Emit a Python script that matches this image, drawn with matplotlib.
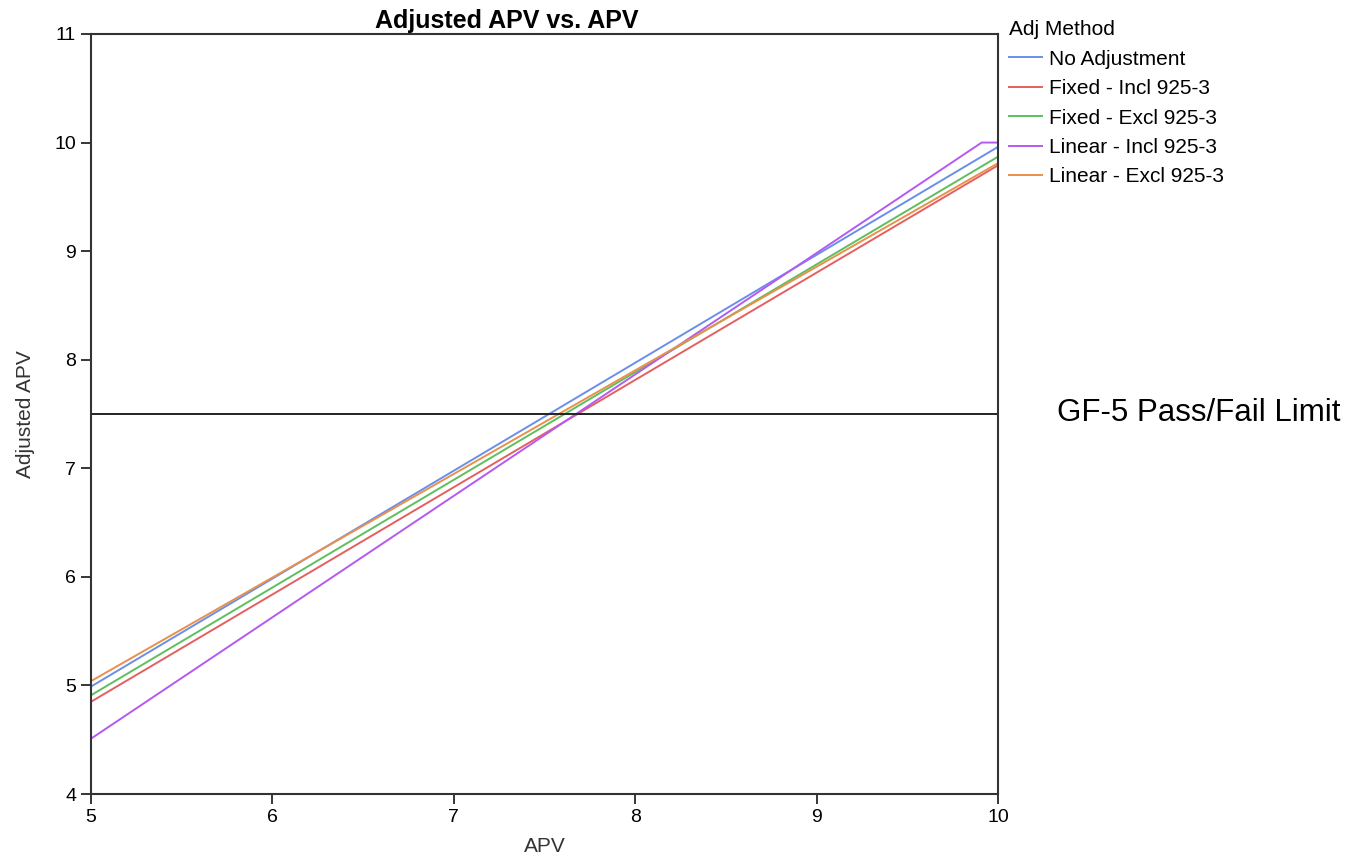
import matplotlib.pyplot as plt

"""Adjusted APV vs. APV for each adjustment method"""

plt.rcParams['font.family'] = ['Liberation Sans', 'DejaVu Sans']

apv = [5, 10]
methods = ['No Adjustment', 'Fixed - Incl 925-3', 'Fixed - Excl 925-3',
           'Linear - Incl 925-3', 'Linear - Excl 925-3']
colors = ['#6B8FE8', '#E46060', '#5DBF5D', '#B45AF2', '#E8904C']

# adjusted values read at APV = 5 and APV = 10
no_adj = [4.99, 9.96]
fixed_incl = [4.85, 9.79]
fixed_excl = [4.91, 9.87]
linear_excl = [5.04, 9.81]
# linear incl is capped at 10
linear_incl_x = [5, 9.91, 10]
linear_incl = [4.51, 10.0, 10.0]

limit = 7.5


def main():
    fig = plt.figure(figsize=(13.63, 8.56), dpi=100)
    ax = fig.add_axes([0.0668, 0.0724, 0.6654, 0.8879])

    ax.plot(apv, no_adj, color=colors[0], lw=1.4, label=methods[0])
    ax.plot(apv, fixed_incl, color=colors[1], lw=1.4, label=methods[1])
    ax.plot(apv, fixed_excl, color=colors[2], lw=1.4, label=methods[2])
    ax.plot(linear_incl_x, linear_incl, color=colors[3], lw=1.4, label=methods[3])
    ax.plot(apv, linear_excl, color=colors[4], lw=1.4, label=methods[4])
    ax.axhline(limit, color='#222222', lw=1.4)

    ax.set_xlim(5, 10)
    ax.set_ylim(4, 11)
    ax.set_xticks(range(5, 11))
    ax.set_yticks(range(4, 12))
    ax.tick_params(labelsize=14, length=7.2, width=1.1, direction='out', pad=3.5)
    for s in ax.spines.values():
        s.set_linewidth(1.5)
        s.set_color('#333333')

    ax.set_xlabel('APV', fontsize=15, color='#333333', labelpad=8)
    ax.set_ylabel('Adjusted APV', fontsize=15, color='#333333', labelpad=14)

    fig.text(507 / 1363, 1 - 28 / 856, 'Adjusted APV vs. APV', ha='center',
             va='baseline', fontsize=18, fontweight='bold')
    fig.text(1057 / 1363, 1 - 413 / 856, 'GF-5 Pass/Fail Limit', ha='left',
             va='center', fontsize=22.5)

    leg = ax.legend(loc='upper left', bbox_to_anchor=(1.003, 1.029), frameon=False,
                    title='Adj Method', fontsize=15, title_fontsize=15,
                    handlelength=1.6, handletextpad=0.3, labelspacing=0.5,
                    borderaxespad=0, alignment='left')
    for line in leg.get_lines():
        line.set_linewidth(1.4)

    fig.savefig('out.png', dpi=100)


if __name__ == '__main__':
    main()
